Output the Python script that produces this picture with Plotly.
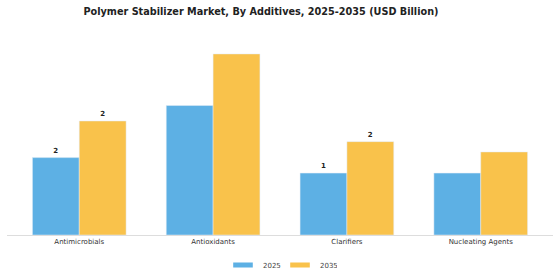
import plotly.graph_objects as go

categories = ["Antimicrobials", "Antioxidants", "Clarifiers", "Nucleating Agents"]
series_names = ["2025", "2035"]
values_2025 = [1.5, 2.51, 1.2, 1.2]
values_2035 = [2.21, 3.51, 1.81, 1.61]
show_labels = [True, False, True, False]
colors = ["#5DB0E4", "#F9C24B"]

def labels(vals):
    return [f"{v:.0f}" if s else "" for v, s in zip(vals, show_labels)]

fig = go.Figure()
for name, vals, col in zip(series_names, [values_2025, values_2035], colors):
    fig.add_trace(go.Bar(name=name, x=categories, y=vals, marker_color=col,
                         text=labels(vals), textposition="outside",
                         textfont=dict(size=7, color="#222222", family="DejaVu Sans", weight="bold"),
                         cliponaxis=False, showlegend=False))
# legend entries with wide, thin swatches
for name, col in zip(series_names, colors):
    fig.add_trace(go.Scatter(name=name, x=[None], y=[None], mode="markers",
                             marker=dict(symbol="line-ew-open", size=14, color=col,
                                         line=dict(width=5, color=col)),
                             showlegend=True, hoverinfo="skip"))

fig.update_layout(
    width=560, height=280,
    margin=dict(l=7, r=7, t=40, b=45, autoexpand=False),
    paper_bgcolor="white", plot_bgcolor="white",
    barmode="group", bargap=0.3, bargroupgap=0,
    title=dict(text="<b>Polymer Stabilizer Market, By Additives, 2025-2035 (USD Billion)</b>",
               x=0.466, xanchor="center", y=0.96, yanchor="middle",
               font=dict(size=9.7, color="#222222", family="DejaVu Sans")),
    font=dict(family="DejaVu Sans", size=7, color="#333333"),
    legend=dict(orientation="h", x=0.5, xanchor="center", y=-0.154, yanchor="middle",
                font=dict(size=7, color="#444444"), entrywidth=12, entrywidthmode="pixels"),
    xaxis=dict(range=[-0.54, 3.54], showline=True, linecolor="#dddddd", linewidth=1,
               ticks="", tickfont=dict(size=7, color="#333333"), showgrid=False),
    yaxis=dict(range=[0, 3.78], visible=False, showgrid=False),
)
fig.write_html("out.html")
